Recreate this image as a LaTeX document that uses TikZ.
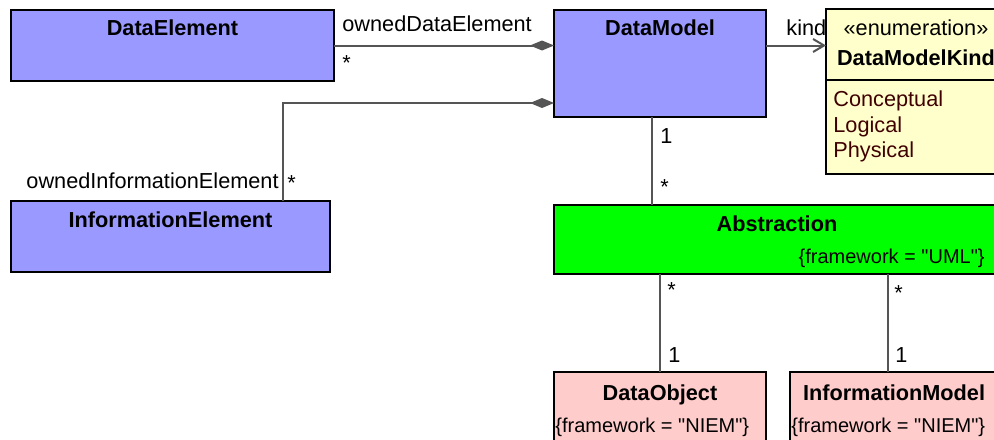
\documentclass[tikz,border=0pt]{standalone}
\usepackage{fontspec}
\setmainfont{Liberation Sans}[Ligatures=TeXOff]
\usetikzlibrary{arrows.meta}
\definecolor{classblue}{HTML}{9999FF}
\definecolor{classgreen}{HTML}{00FF00}
\definecolor{classpink}{HTML}{FFCCCC}
\definecolor{enumyellow}{HTML}{FFFFCC}
\definecolor{linegray}{HTML}{555555}
\definecolor{literalbrown}{HTML}{400000}
\newcommand{\straightquote}{\symbol{34}}

\begin{document}
\begin{tikzpicture}[x=0.5pt, y=-0.5pt,
  font=\fontsize{10.85}{13}\selectfont,
  classbox/.style={draw=black, line width=1.1pt, inner sep=0pt, outer sep=0pt, anchor=north west},
  classname/.style={font=\fontsize{10.85}{13}\selectfont\bfseries, anchor=base, inner sep=0pt},
  plaintext/.style={anchor=base west, inner sep=0pt},
  tagtext/.style={font=\fontsize{10}{12}\selectfont, inner sep=0pt},
  assoc/.style={draw=linegray, line width=1pt}]

\useasboundingbox (0,0) rectangle (994,439);
\clip (0,0) rectangle (994,439);
\fill[white] (0,0) rectangle (994,439);

% Boxes
\node[classbox, fill=classblue, minimum width=161.5pt, minimum height=35.5pt] (dataelement) at (11,10) {};
\node[classbox, fill=classblue, minimum width=159.5pt, minimum height=35.5pt] (infoelement) at (11,201) {};
\node[classbox, fill=classblue, minimum width=106pt, minimum height=53.5pt] (datamodel) at (554,10) {};
\node[classbox, fill=enumyellow, minimum width=90pt, minimum height=35.5pt] (kindheader) at (826,9) {};
\node[classbox, fill=enumyellow, minimum width=90pt, minimum height=47pt] (kindliterals) at (kindheader.south west) {};
\node[classbox, fill=classgreen, minimum width=223pt, minimum height=34.5pt] (abstraction) at (554,205) {};
\node[classbox, fill=classpink, minimum width=106pt, minimum height=45pt] (dataobject) at (554,372) {};
\node[classbox, fill=classpink, minimum width=106pt, minimum height=45pt] (infomodel) at (790,372) {};

% Names
\node[classname] (dataelementname) at (dataelement.center |- 0,35.5) {DataElement};
\node[classname] (infoelementname) at (infoelement.center |- 0,227.5) {InformationElement};
\node[classname] (datamodelname) at (datamodel.center |- 0,35.5) {DataModel};
\node[anchor=base, inner sep=0pt] (kindstereo) at (kindheader.center |- 0,35) {«enumeration»};
\node[classname] (kindname) at (kindheader.center |- 0,65.5) {DataModelKind};
\node[classname] (abstractionname) at (abstraction.center |- 0,231.5) {Abstraction};
\node[classname] (dataobjectname) at (dataobject.center |- 0,400) {DataObject};
\node[classname] (infomodelname) at (894,400) {InformationModel};

% Tagged values and literals
\node[tagtext, anchor=base east] (abstractiontag) at (985,263) {\{framework = \straightquote UML\straightquote\}};
\node[tagtext, anchor=base west] (dataobjecttag) at (555,432) {\{framework = \straightquote NIEM\straightquote\}};
\node[tagtext, anchor=base west] (infomodeltag) at (791,432) {\{framework = \straightquote NIEM\straightquote\}};
\node[plaintext, text=literalbrown] (conceptual) at (833,106) {Conceptual};
\node[plaintext, text=literalbrown] (logical) at (833,132) {Logical};
\node[plaintext, text=literalbrown] (physical) at (833,157) {Physical};

% Connectors
\coordinate (ownbend) at (283,103);
\draw[assoc, -{Diamond[length=12pt, width=5pt]}] (dataelement.east) -- (dataelement.east -| datamodel.west);
\draw[assoc, -{Diamond[length=12pt, width=5pt]}] (infoelement.north -| ownbend) -- (ownbend) -- (ownbend -| datamodel.west);
\draw[assoc, -{Straight Barb[length=5.5pt, width=6.5pt]}] (datamodel.east |- dataelement.east) -- (dataelement.east -| kindheader.west);
\draw[assoc] ([xshift=-4pt]datamodel.south) -- ([xshift=-4pt]datamodel.south |- abstraction.north);
\draw[assoc] (dataobject.north |- abstraction.south) -- (dataobject.north);
\draw[assoc] ([xshift=-4pt]infomodel.north |- abstraction.south) -- ([xshift=-4pt]infomodel.north);

% Role names and multiplicities
\node[plaintext] (ownedde) at (342,32) {ownedDataElement};
\node[plaintext] (ownededmult) at (342,70) {*};
\node[plaintext] (kindrole) at (786,35) {kind};
\node[anchor=base east, inner sep=0pt] (ownedie) at (279,188) {ownedInformationElement};
\node[plaintext] (ownediemult) at (287,190) {*};
\node[plaintext] (modelone) at (660,143) {1};
\node[plaintext] (modelmany) at (660,194) {*};
\node[plaintext] (objectmany) at (667,297) {*};
\node[plaintext] (objectone) at (668,362) {1};
\node[plaintext] (infomany) at (894,300) {*};
\node[plaintext] (infoone) at (895,362) {1};

\end{tikzpicture}
\end{document}
